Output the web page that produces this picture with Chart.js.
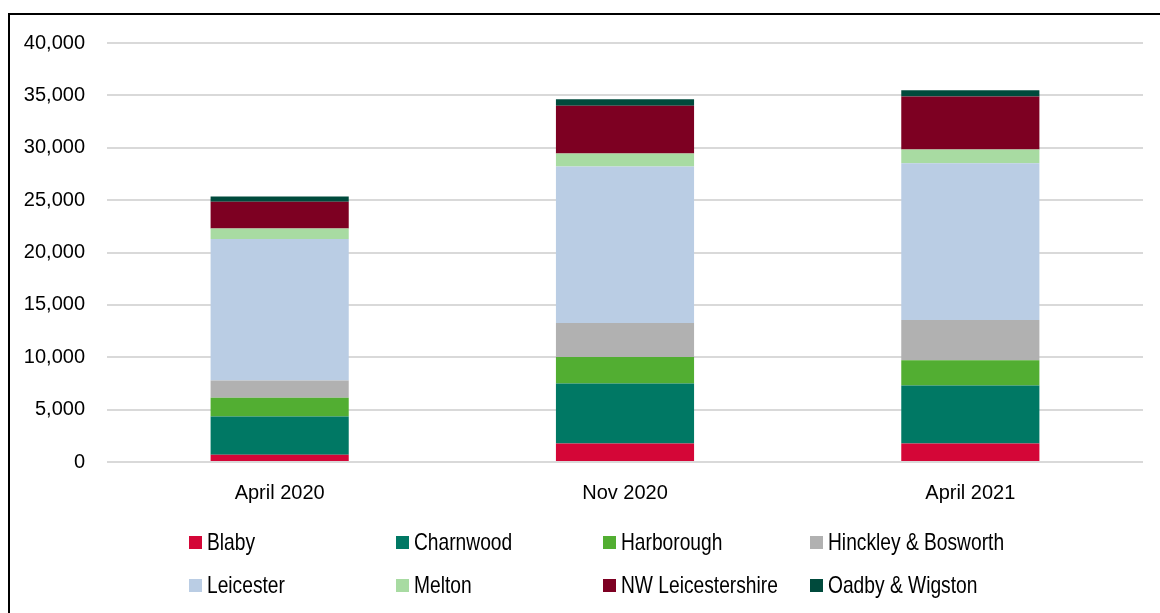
<!DOCTYPE html>
<html>
<head>
<meta charset="utf-8">
<script src="https://cdn.jsdelivr.net/npm/chart.js@4"></script>
<style>
  html, body { margin: 0; padding: 0; background: #fff; }
  body { width: 1160px; height: 613px; position: relative; overflow: hidden;
         font-family: 'Liberation Sans', Arial, sans-serif; }
  #frame { position: absolute; left: 8px; top: 13px; width: 1200px; height: 700px;
           border-left: 2px solid #000; border-top: 2px solid #000; }
  #wrap { position: absolute; left: 0; top: 0; width: 1160px; height: 613px; }
  #legend { position: absolute; left: 189px; top: 529px; width: 900px; }
  .item { position: absolute; display: flex; align-items: center; height: 26px; white-space: nowrap; }
  .item span.box { width: 13px; height: 13px; margin-right: 5px; display: inline-block; }
  .item span.txt { font-size: 24px; color: #000; display: inline-block; transform: scaleX(0.8); transform-origin: left center; }
</style>
</head>
<body>
<div id="frame"></div>
<div id="wrap"><canvas id="grafico" width="1160" height="613"></canvas></div>
<div id="legend"></div>
<script>
// categorias e valores
const periodos = ['April 2020', 'Nov 2020', 'April 2021'];
const distritos = ['Blaby', 'Charnwood', 'Harborough', 'Hinckley & Bosworth',
                   'Leicester', 'Melton', 'NW Leicestershire', 'Oadby & Wigston'];
const blaby      = [700, 1760, 1760];
const charnwood  = [3640, 5730, 5540];
const harborough = [1800, 2540, 2410];
const hinckley   = [1650, 3250, 3850];
const leicester  = [13500, 14920, 14970];
const melton     = [1000, 1250, 1310];
const nwLeics    = [2550, 4550, 5060];
const oadby      = [500, 640, 600];
const cores = ['#D40637', '#007864', '#52AE32', '#B1B1B1', '#BACDE4', '#A8DBA2', '#7D0022', '#004A3C'];

const series = [blaby, charnwood, harborough, hinckley, leicester, melton, nwLeics, oadby];
const fonte = "'Liberation Sans', Arial, sans-serif";

const ctx = document.getElementById('grafico').getContext('2d');
const chart = new Chart(ctx, {
  type: 'bar',
  data: {
    labels: periodos,
    datasets: series.map((vals, i) => ({
      label: distritos[i],
      data: vals,
      backgroundColor: cores[i],
      borderWidth: 0,
      categoryPercentage: 1,
      barPercentage: 0.4
    }))
  },
  options: {
    responsive: false,
    animation: false,
    layout: { padding: { left: 0, right: 17, top: 43, bottom: 101 } },
    plugins: { legend: { display: false }, tooltip: { enabled: false } },
    scales: {
      x: {
        stacked: true,
        grid: { display: false },
        border: { display: false },
        ticks: { color: '#000', font: { family: fonte, size: 20 }, padding: 11 },
        afterFit: s => { s.height = 50; }
      },
      y: {
        stacked: true,
        min: 0, max: 40000,
        grid: { color: '#d9d9d9', lineWidth: 2, drawTicks: false },
        border: { display: false },
        ticks: {
          stepSize: 5000, color: '#000', padding: 22,
          font: { family: fonte, size: 20 },
          callback: v => v.toLocaleString('en-US')
        },
        afterFit: s => { s.width = 107; }
      }
    }
  }
});

// legenda em grade, 4 colunas
const legenda = document.getElementById('legend');
chart.data.datasets.forEach((ds, i) => {
  const el = document.createElement('div');
  el.className = 'item';
  el.style.left = (i % 4) * 207 + 'px';
  el.style.top = Math.floor(i / 4) * 43 + 'px';
  el.innerHTML = `<span class="box" style="background:${ds.backgroundColor}"></span><span class="txt">${ds.label}</span>`;
  legenda.appendChild(el);
});
</script>
</body>
</html>
